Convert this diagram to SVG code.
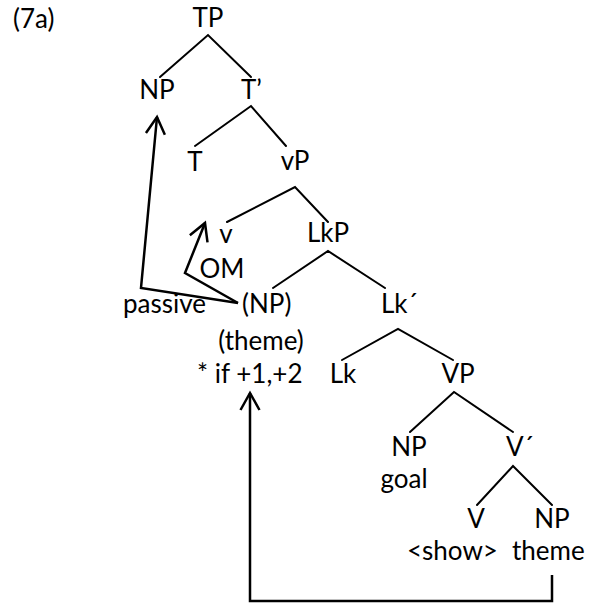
<svg xmlns="http://www.w3.org/2000/svg" width="591" height="604" viewBox="0 0 591 604">
<style>
text{font-family:Lato,"Open Sans","Liberation Sans",sans-serif;font-size:26px;fill:#000}
.m{text-anchor:middle}
.e{text-anchor:end}
.br{stroke:#000;stroke-width:2;fill:none;stroke-linecap:round}
.ar{stroke:#000;stroke-width:2.5;fill:none;stroke-linejoin:miter;marker-end:url(#ah)}
</style>
<defs>
<marker id="ah" markerUnits="userSpaceOnUse" viewBox="-20 -12 24 24" refX="0" refY="0" markerWidth="24" markerHeight="24" orient="auto">
<path d="M-17,-9.5 L0,0 L-17,9.5" fill="none" stroke="#000" stroke-width="2.5"/>
</marker>
</defs>
<g id="label"><text x="13" y="28">(7a)</text></g>
<g id="TP"><text class="m" x="208" y="27">TP</text></g>
<g id="NP-spec"><text class="m" x="157" y="99">NP</text></g>
<g id="Tbar"><text x="241" y="99">T’</text></g>
<g id="T"><text class="m" x="195" y="171">T</text></g>
<g id="vP"><text class="m" x="295" y="170">vP</text></g>
<g id="v"><text class="m" x="226" y="243">v</text></g>
<g id="LkP"><text class="m" x="328" y="242">LkP</text></g>
<g id="OM"><text class="m" x="222" y="278">OM</text></g>
<g id="passive"><text class="e" x="206" y="313">passive</text></g>
<g id="NP-theme"><text x="242" y="313">(NP)</text><text class="m" x="261" y="350">(theme)</text><text x="197" y="383">* if +1,+2</text></g>
<g id="Lkbar"><text x="381" y="313">Lk´</text></g>
<g id="Lk"><text class="m" x="343" y="383">Lk</text></g>
<g id="VP"><text class="m" x="458" y="383">VP</text></g>
<g id="NP-goal"><text class="m" x="409" y="456">NP</text><text class="m" x="404" y="488">goal</text></g>
<g id="Vbar"><text x="506" y="456">V´</text></g>
<g id="V"><text class="m" x="476" y="528">V</text><text x="407" y="560">&lt;show&gt;</text></g>
<g id="NP-obj"><text class="m" x="552" y="528">NP</text><text x="512" y="560">theme</text></g>
<g id="connectors">
<path class="br" d="M160,77 L208,35 L251,77"/>
<path class="br" d="M195,146 L251,106 L286,146"/>
<path class="br" d="M227,222 L295,187 L328,222"/>
<path class="br" d="M273,288 L328,251 L385,288"/>
<path class="br" d="M342,360 L398,329 L453,360"/>
<path class="br" d="M410,432 L454,392 L513,432"/>
<path class="br" d="M477,505 L513,466 L552,505"/>
<polyline class="ar" points="238,303 141,288 157,117"/>
<polyline class="ar" points="238,303 185,273 205,223"/>
<polyline class="ar" points="552,575 552,601 250,601 250,393"/>
</g>
</svg>
